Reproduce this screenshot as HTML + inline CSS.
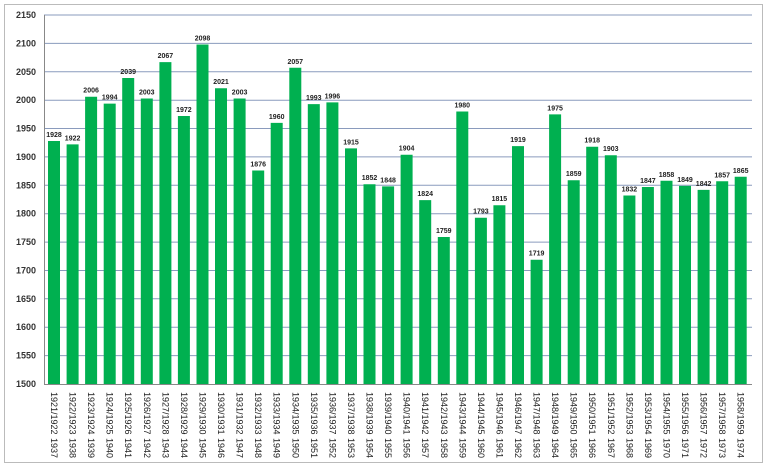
<!DOCTYPE html>
<html><head><meta charset="utf-8"><style>body{margin:0;background:#fff}svg{display:block}
.v{font-size:7px;font-weight:bold;fill:#222;text-anchor:middle}
.a{font-size:9px;font-weight:bold;fill:#333;text-anchor:end}
.x{font-size:9px;fill:#222}
</style></head><body>
<svg width="768" height="469" xmlns="http://www.w3.org/2000/svg" font-family="Liberation Sans, sans-serif">
<rect x="4.5" y="4.5" width="758" height="458" fill="#fff" stroke="#bbb"/>
<g stroke="#8a9bbd">
<line x1="44" x2="752" y1="355.6" y2="355.6"/><line x1="44" x2="752" y1="327.2" y2="327.2"/><line x1="44" x2="752" y1="298.8" y2="298.8"/><line x1="44" x2="752" y1="270.5" y2="270.5"/><line x1="44" x2="752" y1="242.1" y2="242.1"/><line x1="44" x2="752" y1="213.7" y2="213.7"/><line x1="44" x2="752" y1="185.3" y2="185.3"/><line x1="44" x2="752" y1="156.9" y2="156.9"/><line x1="44" x2="752" y1="128.5" y2="128.5"/><line x1="44" x2="752" y1="100.2" y2="100.2"/><line x1="44" x2="752" y1="71.8" y2="71.8"/><line x1="44" x2="752" y1="43.4" y2="43.4"/><line x1="44" x2="752" y1="15" y2="15"/>
</g>
<g class="a">
<text class="a" x="36" y="387">1500</text><text class="a" x="36" y="358.6">1550</text><text class="a" x="36" y="330.2">1600</text><text class="a" x="36" y="301.8">1650</text><text class="a" x="36" y="273.5">1700</text><text class="a" x="36" y="245.1">1750</text><text class="a" x="36" y="216.7">1800</text><text class="a" x="36" y="188.3">1850</text><text class="a" x="36" y="159.9">1900</text><text class="a" x="36" y="131.5">1950</text><text class="a" x="36" y="103.2">2000</text><text class="a" x="36" y="74.8">2050</text><text class="a" x="36" y="46.4">2100</text><text class="a" x="36" y="18">2150</text>
</g>
<g stroke="#00b050" stroke-width="12">
<line x1="54.0" x2="54.0" y1="141.0" y2="384"/><line x1="72.6" x2="72.6" y1="144.4" y2="384"/><line x1="91.1" x2="91.1" y1="96.7" y2="384"/><line x1="109.7" x2="109.7" y1="103.6" y2="384"/><line x1="128.2" x2="128.2" y1="78.0" y2="384"/><line x1="146.8" x2="146.8" y1="98.5" y2="384"/><line x1="165.4" x2="165.4" y1="62.1" y2="384"/><line x1="183.9" x2="183.9" y1="116.0" y2="384"/><line x1="202.5" x2="202.5" y1="44.5" y2="384"/><line x1="221.0" x2="221.0" y1="88.2" y2="384"/><line x1="239.6" x2="239.6" y1="98.5" y2="384"/><line x1="258.2" x2="258.2" y1="170.5" y2="384"/><line x1="276.7" x2="276.7" y1="122.9" y2="384"/><line x1="295.3" x2="295.3" y1="67.8" y2="384"/><line x1="313.8" x2="313.8" y1="104.1" y2="384"/><line x1="332.4" x2="332.4" y1="102.4" y2="384"/><line x1="351.0" x2="351.0" y1="148.4" y2="384"/><line x1="369.5" x2="369.5" y1="184.2" y2="384"/><line x1="388.1" x2="388.1" y1="186.4" y2="384"/><line x1="406.6" x2="406.6" y1="154.7" y2="384"/><line x1="425.2" x2="425.2" y1="200.1" y2="384"/><line x1="443.8" x2="443.8" y1="237.0" y2="384"/><line x1="462.3" x2="462.3" y1="111.5" y2="384"/><line x1="480.9" x2="480.9" y1="217.7" y2="384"/><line x1="499.4" x2="499.4" y1="205.2" y2="384"/><line x1="518.0" x2="518.0" y1="146.1" y2="384"/><line x1="536.6" x2="536.6" y1="259.7" y2="384"/><line x1="555.1" x2="555.1" y1="114.4" y2="384"/><line x1="573.7" x2="573.7" y1="180.2" y2="384"/><line x1="592.2" x2="592.2" y1="146.7" y2="384"/><line x1="610.8" x2="610.8" y1="155.2" y2="384"/><line x1="629.4" x2="629.4" y1="195.5" y2="384"/><line x1="647.9" x2="647.9" y1="187.0" y2="384"/><line x1="666.5" x2="666.5" y1="180.8" y2="384"/><line x1="685.0" x2="685.0" y1="185.9" y2="384"/><line x1="703.6" x2="703.6" y1="189.9" y2="384"/><line x1="722.2" x2="722.2" y1="181.3" y2="384"/><line x1="740.7" x2="740.7" y1="176.8" y2="384"/>
</g>
<g>
<text class="v" x="54.0" y="137.0">1928</text><text class="v" x="72.6" y="140.4">1922</text><text class="v" x="91.1" y="92.7">2006</text><text class="v" x="109.7" y="99.6">1994</text><text class="v" x="128.2" y="74.0">2039</text><text class="v" x="146.8" y="94.5">2003</text><text class="v" x="165.4" y="58.1">2067</text><text class="v" x="183.9" y="112.0">1972</text><text class="v" x="202.5" y="40.5">2098</text><text class="v" x="221.0" y="84.2">2021</text><text class="v" x="239.6" y="94.5">2003</text><text class="v" x="258.2" y="166.5">1876</text><text class="v" x="276.7" y="118.9">1960</text><text class="v" x="295.3" y="63.8">2057</text><text class="v" x="313.8" y="100.1">1993</text><text class="v" x="332.4" y="98.4">1996</text><text class="v" x="351.0" y="144.4">1915</text><text class="v" x="369.5" y="180.2">1852</text><text class="v" x="388.1" y="182.4">1848</text><text class="v" x="406.6" y="150.7">1904</text><text class="v" x="425.2" y="196.1">1824</text><text class="v" x="443.8" y="233.0">1759</text><text class="v" x="462.3" y="107.5">1980</text><text class="v" x="480.9" y="213.7">1793</text><text class="v" x="499.4" y="201.2">1815</text><text class="v" x="518.0" y="142.1">1919</text><text class="v" x="536.6" y="255.7">1719</text><text class="v" x="555.1" y="110.4">1975</text><text class="v" x="573.7" y="176.2">1859</text><text class="v" x="592.2" y="142.7">1918</text><text class="v" x="610.8" y="151.2">1903</text><text class="v" x="629.4" y="191.5">1832</text><text class="v" x="647.9" y="183.0">1847</text><text class="v" x="666.5" y="176.8">1858</text><text class="v" x="685.0" y="181.9">1849</text><text class="v" x="703.6" y="185.9">1842</text><text class="v" x="722.2" y="177.3">1857</text><text class="v" x="740.7" y="172.8">1865</text>
</g>
<line x1="44.5" x2="44.5" y1="15" y2="384" stroke="#888"/>
<line x1="44" x2="752" y1="384.5" y2="384.5" stroke="#888"/>
<g>
<text class="x" transform="translate(51.0,392) rotate(90)">1921/1922<tspan x="46">1937</tspan></text>
<text class="x" transform="translate(69.6,392) rotate(90)">1922/1923<tspan x="46">1938</tspan></text>
<text class="x" transform="translate(88.1,392) rotate(90)">1923/1924<tspan x="46">1939</tspan></text>
<text class="x" transform="translate(106.7,392) rotate(90)">1924/1925<tspan x="46">1940</tspan></text>
<text class="x" transform="translate(125.2,392) rotate(90)">1925/1926<tspan x="46">1941</tspan></text>
<text class="x" transform="translate(143.8,392) rotate(90)">1926/1927<tspan x="46">1942</tspan></text>
<text class="x" transform="translate(162.4,392) rotate(90)">1927/1928<tspan x="46">1943</tspan></text>
<text class="x" transform="translate(180.9,392) rotate(90)">1928/1929<tspan x="46">1944</tspan></text>
<text class="x" transform="translate(199.5,392) rotate(90)">1929/1930<tspan x="46">1945</tspan></text>
<text class="x" transform="translate(218.0,392) rotate(90)">1930/1931<tspan x="46">1946</tspan></text>
<text class="x" transform="translate(236.6,392) rotate(90)">1931/1932<tspan x="46">1947</tspan></text>
<text class="x" transform="translate(255.2,392) rotate(90)">1932/1933<tspan x="46">1948</tspan></text>
<text class="x" transform="translate(273.7,392) rotate(90)">1933/1934<tspan x="46">1949</tspan></text>
<text class="x" transform="translate(292.3,392) rotate(90)">1934/1935<tspan x="46">1950</tspan></text>
<text class="x" transform="translate(310.8,392) rotate(90)">1935/1936<tspan x="46">1951</tspan></text>
<text class="x" transform="translate(329.4,392) rotate(90)">1936/1937<tspan x="46">1952</tspan></text>
<text class="x" transform="translate(348.0,392) rotate(90)">1937/1938<tspan x="46">1953</tspan></text>
<text class="x" transform="translate(366.5,392) rotate(90)">1938/1939<tspan x="46">1954</tspan></text>
<text class="x" transform="translate(385.1,392) rotate(90)">1939/1940<tspan x="46">1955</tspan></text>
<text class="x" transform="translate(403.6,392) rotate(90)">1940/1941<tspan x="46">1956</tspan></text>
<text class="x" transform="translate(422.2,392) rotate(90)">1941/1942<tspan x="46">1957</tspan></text>
<text class="x" transform="translate(440.8,392) rotate(90)">1942/1943<tspan x="46">1958</tspan></text>
<text class="x" transform="translate(459.3,392) rotate(90)">1943/1944<tspan x="46">1959</tspan></text>
<text class="x" transform="translate(477.9,392) rotate(90)">1944/1945<tspan x="46">1960</tspan></text>
<text class="x" transform="translate(496.4,392) rotate(90)">1945/1946<tspan x="46">1961</tspan></text>
<text class="x" transform="translate(515.0,392) rotate(90)">1946/1947<tspan x="46">1962</tspan></text>
<text class="x" transform="translate(533.6,392) rotate(90)">1947/1948<tspan x="46">1963</tspan></text>
<text class="x" transform="translate(552.1,392) rotate(90)">1948/1949<tspan x="46">1964</tspan></text>
<text class="x" transform="translate(570.7,392) rotate(90)">1949/1950<tspan x="46">1965</tspan></text>
<text class="x" transform="translate(589.2,392) rotate(90)">1950/1951<tspan x="46">1966</tspan></text>
<text class="x" transform="translate(607.8,392) rotate(90)">1951/1952<tspan x="46">1967</tspan></text>
<text class="x" transform="translate(626.4,392) rotate(90)">1952/1953<tspan x="46">1968</tspan></text>
<text class="x" transform="translate(644.9,392) rotate(90)">1953/1954<tspan x="46">1969</tspan></text>
<text class="x" transform="translate(663.5,392) rotate(90)">1954/1955<tspan x="46">1970</tspan></text>
<text class="x" transform="translate(682.0,392) rotate(90)">1955/1956<tspan x="46">1971</tspan></text>
<text class="x" transform="translate(700.6,392) rotate(90)">1956/1957<tspan x="46">1972</tspan></text>
<text class="x" transform="translate(719.2,392) rotate(90)">1957/1958<tspan x="46">1973</tspan></text>
<text class="x" transform="translate(737.7,392) rotate(90)">1958/1959<tspan x="46">1974</tspan></text>
</g>
</svg>
</body></html>
